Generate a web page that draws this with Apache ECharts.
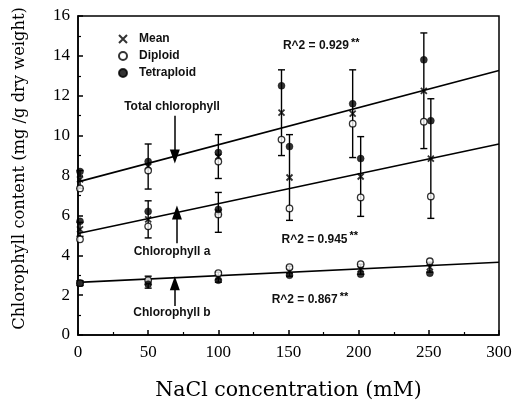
<!DOCTYPE html>
<html>
<head>
<meta charset="utf-8">
<script src="https://cdn.jsdelivr.net/npm/echarts@6/dist/echarts.min.js"></script>
<style>
html,body{margin:0;padding:0;background:#fff;}
#chart{width:524px;height:409px;}
</style>
</head>
<body>
<div id="chart"></div>
<script>
// ---- data ----
const xValues = [0, 50, 100, 150, 200, 250];

const totalMean       = [7.8, 8.45, 8.95, 11.15, 11.1, 12.25];
const totalDiploid    = [7.35, 8.25, 8.7, 9.8, 10.6, 10.7];
const totalTetraploid = [8.2, 8.7, 9.15, 12.5, 11.6, 13.8];
const totalErr        = [0.45, 1.13, 1.1, 2.15, 2.2, 2.9];

const chlAMean       = [5.3, 5.8, 6.15, 7.9, 7.95, 8.85];
const chlADiploid    = [4.8, 5.45, 6.05, 6.35, 6.9, 6.95];
const chlATetraploid = [5.7, 6.2, 6.3, 9.45, 8.85, 10.75];
const chlAErr        = [0.35, 0.93, 1.0, 2.15, 2.0, 3.0];

const chlBMean       = [2.6, 2.65, 2.9, 3.2, 3.3, 3.4];
const chlBDiploid    = [2.6, 2.75, 3.1, 3.4, 3.55, 3.7];
const chlBTetraploid = [2.6, 2.55, 2.75, 3.0, 3.05, 3.1];
const chlBErr        = [0.12, 0.3, 0.25, 0.25, 0.25, 0.25];

const fitX        = [0, 300];
const totalFit    = [7.68, 13.27];
const chlAFit     = [5.09, 9.58];
const chlBFit     = [2.64, 3.65];

const xTicks = [0, 50, 100, 150, 200, 250, 300];
const yTicks = [0, 2, 4, 6, 8, 10, 12, 14, 16];

const legendNames = ['Mean', 'Diploid', 'Tetraploid'];
const r2Labels = ['R^2 = 0.929', 'R^2 = 0.945', 'R^2 = 0.867'];
const groupLabels = ['Total chlorophyll', 'Chlorophyll a', 'Chlorophyll b'];

// ---- styling (pixel dodges of overlapping error-bar columns) ----
const dodgeTotal = [2, 0, 0, -7, -6, -5];
const dodgeA     = [2, 0, 0, 1, 2, 2];
const dodgeB     = [2, 0, 0, 1, 2, 1];

const groups = [
  {mean: totalMean, dip: totalDiploid, tet: totalTetraploid, err: totalErr, dodge: dodgeTotal},
  {mean: chlAMean,  dip: chlADiploid,  tet: chlATetraploid,  err: chlAErr,  dodge: dodgeA},
  {mean: chlBMean,  dip: chlBDiploid,  tet: chlBTetraploid,  err: chlBErr,  dodge: dodgeB}
];

function markerData(key) {
  const out = [];
  groups.forEach(g => {
    xValues.forEach((x, i) => {
      out.push({value: [x, g[key][i]], symbolOffset: [g.dodge[i], 0]});
    });
  });
  return out;
}
const errData = [];
groups.forEach(g => {
  xValues.forEach((x, i) => {
    errData.push([x, g.mean[i] - g.err[i], g.mean[i] + g.err[i], g.dodge[i]]);
  });
});

const serif = 'Liberation Serif, Times New Roman, serif';
const wideSerif = 'DejaVu Serif, serif';
const sans = 'Liberation Sans, Arial, Helvetica, sans-serif';
const crossPath = 'path://M0,0L10,10M10,0L0,10';

function fitSeries(vals, arrow) {
  return {
    type: 'line',
    data: fitX.map((x, i) => [x, vals[i]]),
    symbol: 'none',
    lineStyle: {color: '#000', width: 1.6},
    z: 2,
    silent: true,
    markLine: {
      silent: true,
      symbol: ['none', 'triangle'],
      symbolSize: [10, 14],
      lineStyle: {color: '#000', width: 1.5, type: 'solid'},
      label: {show: false},
      data: [[{coord: arrow[0]}, {coord: arrow[1]}]]
    }
  };
}

const chart = echarts.init(document.getElementById('chart'), null, {renderer: 'canvas'});
const option = {
  animation: false,
  backgroundColor: '#fff',
  grid: {left: 78, right: 25, top: 16, bottom: 74, show: true, borderColor: '#000', borderWidth: 1.5, containLabel: false},
  legend: {
    orient: 'vertical',
    left: 113,
    top: 28,
    itemGap: 5,
    itemWidth: 8,
    itemHeight: 8,
    selectedMode: false,
    textStyle: {fontFamily: sans, fontSize: 12, fontWeight: 'bold', color: '#111', padding: [0, 0, 0, 7]},
    data: legendNames
  },
  xAxis: {
    type: 'value', min: 0, max: 300, interval: 50,
    axisLine: {lineStyle: {color: '#000', width: 1.5}},
    axisTick: {inside: true, length: 5, lineStyle: {color: '#000', width: 1.5}},
    minorTick: {show: true, splitNumber: 2, length: 3, lineStyle: {color: '#000', width: 1.2}},
    splitLine: {show: false},
    axisLabel: {fontFamily: serif, fontSize: 17, color: '#000', margin: 9,
      formatter: v => xTicks.includes(v) ? String(v) : ''},
    name: 'NaCl concentration (mM)',
    nameLocation: 'middle',
    nameGap: 45,
    nameTextStyle: {fontFamily: wideSerif, fontSize: 20.5, color: '#000'}
  },
  yAxis: {
    type: 'value', min: 0, max: 16, interval: 2,
    axisLine: {lineStyle: {color: '#000', width: 1.5}},
    axisTick: {inside: true, length: 5, lineStyle: {color: '#000', width: 1.5}},
    minorTick: {show: true, splitNumber: 2, length: 3, lineStyle: {color: '#000', width: 1.2}},
    splitLine: {show: false},
    axisLabel: {fontFamily: serif, fontSize: 17, color: '#000', margin: 8,
      formatter: v => yTicks.includes(v) ? String(v) : ''},
    name: 'Chlorophyll content (mg /g dry weight)',
    nameLocation: 'middle',
    nameGap: 50,
    nameTextStyle: {fontFamily: wideSerif, fontSize: 16.3, color: '#000', padding: [0, 0, 0, 14]}
  },
  series: [
    fitSeries(totalFit, [[69, 11.0], [69, 8.95]]),
    fitSeries(chlAFit, [[70.5, 4.6], [70.5, 6.15]]),
    fitSeries(chlBFit, [[69, 1.45], [69, 2.6]]),
    {
      type: 'custom',
      data: errData,
      z: 3,
      silent: true,
      renderItem: function (params, api) {
        const x = api.value(0);
        const lo = api.coord([x, api.value(1)]);
        const hi = api.coord([x, api.value(2)]);
        const px = lo[0] + api.value(3);
        const cw = 3.5;
        const st = {stroke: '#000', lineWidth: 1.4};
        return {
          type: 'group',
          children: [
            {type: 'line', shape: {x1: px, y1: lo[1], x2: px, y2: hi[1]}, style: st},
            {type: 'line', shape: {x1: px - cw, y1: lo[1], x2: px + cw, y2: lo[1]}, style: st},
            {type: 'line', shape: {x1: px - cw, y1: hi[1], x2: px + cw, y2: hi[1]}, style: st}
          ]
        };
      }
    },
    {
      name: 'Mean', type: 'scatter', symbol: crossPath, symbolSize: 6, z: 5,
      itemStyle: {color: '#000', borderColor: '#000', borderWidth: 1.8},
      data: markerData('mean')
    },
    {
      name: 'Diploid', type: 'scatter', symbol: 'circle', symbolSize: 6.5, z: 6,
      itemStyle: {color: '#fff', borderColor: '#000', borderWidth: 1.3},
      data: markerData('dip')
    },
    {
      name: 'Tetraploid', type: 'scatter', symbol: 'circle', symbolSize: 7, z: 6,
      itemStyle: {color: '#000', borderColor: '#000', borderWidth: 0.5},
      data: markerData('tet')
    }
  ]
};
chart.setOption(option);

// annotation texts placed in data coordinates
const textNotes = [
  {text: groupLabels[0], at: [67, 11.45], align: 'center'},
  {text: groupLabels[1], at: [67, 4.2], align: 'center'},
  {text: groupLabels[2], at: [67, 1.13], align: 'center'},
  {text: r2Labels[0], at: [146, 14.5], align: 'left'},
  {text: r2Labels[1], at: [145, 4.8], align: 'left'},
  {text: r2Labels[2], at: [138, 1.75], align: 'left'}
];
const graphics = textNotes.map(n => {
  const p = chart.convertToPixel({gridIndex: 0}, n.at);
  const isR2 = n.text.startsWith('R^2');
  return {
    type: 'text', x: p[0], y: p[1], z: 10, silent: true,
    style: {
      text: isR2 ? n.text + '{s|**}' : n.text,
      rich: {s: {fontSize: 11, fontWeight: 'bold', verticalAlign: 'top', padding: [0, 0, 6, 2], fontFamily: sans, fill: '#000'}},
      font: 'bold 12px ' + sans,
      fill: '#111',
      align: n.align,
      verticalAlign: 'middle'
    }
  };
});
chart.setOption({graphic: graphics});
</script>
</body>
</html>
